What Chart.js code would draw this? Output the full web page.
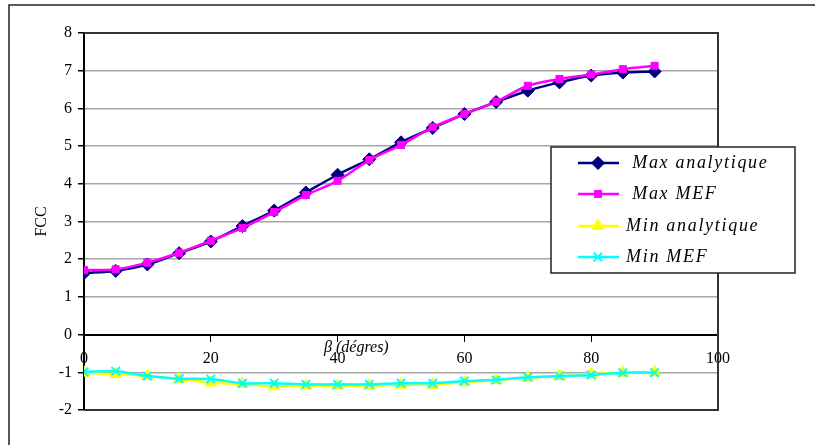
<!DOCTYPE html>
<html>
<head>
<meta charset="utf-8">
<script src="https://cdn.jsdelivr.net/npm/chart.js@4"></script>
<style>
  html, body { margin: 0; padding: 0; background: #fff; }
  canvas { display: block; }
</style>
</head>
<body>
<canvas id="fcc" width="815" height="445"></canvas>
<script>
// angle beta (degrees)
const angles = [0, 5, 10, 15, 20, 25, 30, 35, 40, 45, 50, 55, 60, 65, 70, 75, 80, 85, 90];

const maxAnalytique = [1.63, 1.69, 1.86, 2.16, 2.47, 2.88, 3.29, 3.77, 4.24, 4.65, 5.1, 5.48, 5.85, 6.17, 6.47, 6.69, 6.87, 6.95, 6.98];
const maxMef = [1.71, 1.73, 1.91, 2.17, 2.49, 2.83, 3.25, 3.7, 4.08, 4.63, 5.03, 5.5, 5.85, 6.18, 6.6, 6.78, 6.9, 7.04, 7.13];
const minAnalytique = [-1.01, -1.05, -1.1, -1.18, -1.27, -1.31, -1.37, -1.36, -1.36, -1.36, -1.33, -1.33, -1.26, -1.21, -1.14, -1.1, -1.05, -1.01, -1.0];
const minMef = [-0.99, -0.97, -1.1, -1.17, -1.18, -1.29, -1.29, -1.32, -1.32, -1.32, -1.29, -1.29, -1.23, -1.2, -1.13, -1.1, -1.07, -1.01, -1.01];

const yTicks = [-2, -1, 0, 1, 2, 3, 4, 5, 6, 7, 8];
const xTicks = [0, 20, 40, 60, 80, 100];

const legendLabels = [' Max analytique', ' Max MEF', 'Min analytique', 'Min MEF'];

const serif = '"Liberation Serif", "Times New Roman", serif';

const toPoints = (vals) => angles.map((a, i) => ({ x: a, y: vals[i] }));

// white page + outer frame
const frame = {
  id: 'frame',
  beforeDraw(chart) {
    const { ctx } = chart;
    ctx.save();
    ctx.fillStyle = '#fff';
    ctx.fillRect(0, 0, chart.width, chart.height);
    ctx.strokeStyle = '#222';
    ctx.lineWidth = 1.5;
    ctx.strokeRect(9, 5, chart.width, chart.height);
    ctx.restore();
  },
  beforeDatasetsDraw(chart) {
    // plot area border: top, right, bottom
    const { ctx, chartArea: a } = chart;
    ctx.save();
    ctx.strokeStyle = '#333';
    ctx.lineWidth = 2;
    ctx.beginPath();
    ctx.moveTo(a.left, a.top);
    ctx.lineTo(a.right, a.top);
    ctx.lineTo(a.right, a.bottom);
    ctx.lineTo(a.left, a.bottom);
    ctx.stroke();
    ctx.restore();
  },
};

// x title sits on top of the tick labels like in the original
const xTitle = {
  id: 'xTitle',
  afterDraw(chart) {
    const { ctx } = chart;
    ctx.save();
    ctx.font = `italic 16px ${serif}`;
    ctx.fillStyle = '#000';
    ctx.textBaseline = 'middle';
    ctx.fillText('\u03b2 (dégres)', 324, 348);
    ctx.restore();
  },
};

// boxed legend over the right side of the plot
const boxLegend = {
  id: 'boxLegend',
  afterDraw(chart) {
    const { ctx } = chart;
    const box = { x: 551, y: 147, w: 244, h: 126 };
    const rows = [163, 194, 226, 257];
    ctx.save();
    ctx.fillStyle = '#fff';
    ctx.fillRect(box.x, box.y, box.w, box.h);
    ctx.strokeStyle = '#222';
    ctx.lineWidth = 1.5;
    ctx.strokeRect(box.x, box.y, box.w, box.h);
    chart.data.datasets.forEach((ds, i) => {
      const y = rows[i];
      ctx.strokeStyle = ds.borderColor;
      ctx.lineWidth = 2.5;
      ctx.beginPath();
      ctx.moveTo(578, y);
      ctx.lineTo(619, y);
      ctx.stroke();
      ctx.fillStyle = ds.pointBackgroundColor;
      ctx.strokeStyle = ds.pointBorderColor;
      ctx.lineWidth = ds.pointBorderWidth || 1;
      Chart.helpers.drawPoint(ctx, {
        pointStyle: ds.pointStyle,
        radius: ds.pointRadius,
        borderWidth: ds.pointBorderWidth || 1,
        rotation: 0,
      }, 598, y);
      ctx.fillStyle = '#000';
      ctx.font = `italic 18px ${serif}`;
      ctx.letterSpacing = '1.7px';
      ctx.textBaseline = 'middle';
      ctx.fillText(legendLabels[i], 626, y);
    });
    ctx.restore();
  },
};

new Chart(document.getElementById('fcc'), {
  type: 'line',
  data: {
    datasets: [
      {
        label: 'Max analytique',
        data: toPoints(maxAnalytique),
        borderColor: '#000080',
        borderWidth: 2.5,
        pointStyle: 'rectRot',
        pointRadius: 6.5,
        pointBackgroundColor: '#000080',
        pointBorderColor: '#000080',
        pointBorderWidth: 1,
        order: 2,
      },
      {
        label: 'Max MEF',
        data: toPoints(maxMef),
        borderColor: '#ff00ff',
        borderWidth: 2.5,
        pointStyle: 'rect',
        pointRadius: 5,
        pointBackgroundColor: '#ff00ff',
        pointBorderColor: '#ff00ff',
        pointBorderWidth: 1,
        order: 1,
      },
      {
        label: 'Min analytique',
        data: toPoints(minAnalytique),
        borderColor: '#ffff00',
        borderWidth: 2.5,
        pointStyle: 'triangle',
        pointRadius: 7,
        pointBackgroundColor: '#ffff00',
        pointBorderColor: '#ffff00',
        pointBorderWidth: 1,
        order: 2,
      },
      {
        label: 'Min MEF',
        data: toPoints(minMef),
        borderColor: '#00ffff',
        borderWidth: 2.5,
        pointStyle: 'crossRot',
        pointRadius: 6,
        pointBackgroundColor: '#00ffff',
        pointBorderColor: '#00ffff',
        pointBorderWidth: 2,
        order: 1,
      },
    ],
  },
  options: {
    responsive: false,
    animation: false,
    devicePixelRatio: 1,
    layout: { padding: { left: 32, top: 33, right: 97, bottom: 35 } },
    elements: { line: { tension: 0.3 } },
    plugins: {
      legend: { display: false },
      tooltip: { enabled: false },
    },
    scales: {
      x: {
        type: 'linear',
        position: { y: 0 },
        min: 0,
        max: 100,
        afterBuildTicks: (s) => { s.ticks = xTicks.map((v) => ({ value: v })); },
        ticks: {
          color: '#000',
          font: { family: serif, size: 16 },
          padding: 9,
          maxRotation: 0,
        },
        grid: { drawOnChartArea: false, drawTicks: true, tickLength: 6, color: '#000' },
        border: { color: '#000', width: 2 },
      },
      y: {
        min: -2,
        max: 8,
        afterBuildTicks: (s) => { s.ticks = yTicks.map((v) => ({ value: v })); },
        afterFit: (s) => { s.width = 52; },
        ticks: {
          color: '#000',
          font: { family: serif, size: 16 },
          padding: 6,
        },
        grid: {
          color: (c) => (c.tick && (c.tick.value === 0 || c.tick.value === 8 || c.tick.value === -2) ? 'rgba(0,0,0,0)' : '#a6a6a6'),
          tickColor: '#000',
          tickLength: 6,
          lineWidth: 1.5,
        },
        border: { color: '#000', width: 2 },
        title: {
          display: true,
          text: 'FCC',
          color: '#000',
          font: { family: serif, size: 16 },
          padding: 0,
        },
      },
    },
  },
  plugins: [frame, xTitle, boxLegend],
});
</script>
</body>
</html>
